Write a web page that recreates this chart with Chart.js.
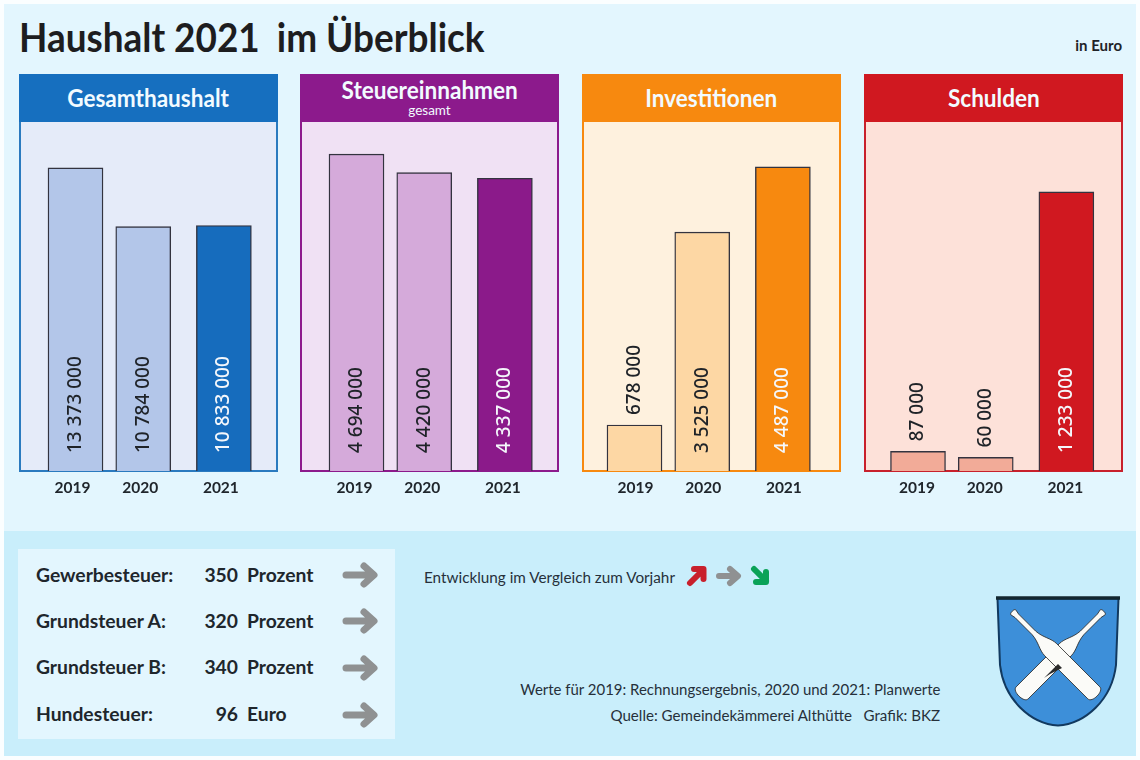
<!DOCTYPE html>
<html lang="de">
<head>
<meta charset="utf-8">
<title>Haushalt 2021 im Überblick</title>
<script src="https://cdn.jsdelivr.net/npm/chart.js@4"></script>
<style>
  html, body { margin: 0; padding: 0; background: #fbfeff; }
  body { width: 1140px; height: 760px; position: relative; overflow: hidden; font-family: Lato, "Noto Sans", sans-serif; color: #1f2328; }
  .abs { position: absolute; white-space: nowrap; }
  #top { left: 4px; top: 4px; width: 1132px; height: 527px; background: #e3f6fe; }
  #bottom { left: 4px; top: 531px; width: 1132px; height: 225px; background: #c9eefb; }
  #title { left: 19px; top: 13px; font-size: 41px; line-height: 48px; font-weight: 700; color: #1d1d1f; transform: scaleX(.9); transform-origin: left center; }
  #unit { right: 18px; top: 36px; font-size: 15px; line-height: 18px; font-weight: 700; }
  .head { height: 48px; color: #f2fbff; text-align: center; font-weight: 700; font-size: 24px; }
  .head span { display: inline-block; transform: scaleX(.94); }
  .body { box-sizing: border-box; border: 2px solid; border-top: 0; }
  #taxBox { left: 18px; top: 549px; width: 377px; height: 190px; background: #e3f6fe; }
  .tax { font-size: 19.3px; font-weight: 700; line-height: 24px; color: #20262c; }
  .note { font-size: 15.5px; line-height: 20px; color: #26303a; }
</style>
</head>
<body>
<div class="abs" id="top"></div>
<div class="abs" id="bottom"></div>
<div class="abs" id="title">Haushalt 2021 <span style="margin-left:9px">im Überblick</span></div>
<div class="abs" id="unit">in Euro</div>
<div id="panels"></div>
<div class="abs" id="taxBox"></div>
<div id="taxRows"></div>
<div class="abs note" style="left:424px;top:567px;transform:scaleX(.985);transform-origin:left center">Entwicklung im Vergleich zum Vorjahr</div>
<div class="abs note" style="right:200px;top:679px;transform:scaleX(.965);transform-origin:right center">Werte für 2019: Rechnungsergebnis, 2020 und 2021: Planwerte</div>
<div class="abs note" style="right:200px;top:705px;transform:scaleX(.975);transform-origin:right center">Quelle: Gemeindekämmerei Althütte&nbsp;&nbsp; Grafik: BKZ</div>

<svg class="abs" style="left:684px;top:562px" width="90" height="28" viewBox="0 0 90 28" fill="none" stroke-width="6" stroke-linecap="round" stroke-linejoin="round">
  <path d="M6 21 L19 8 M10 7 H19.500 V17" stroke="#c8202c"/>
  <path d="M35 14 H53 M46 7 L54 14 L46 21" stroke="#8f9192"/>
  <path d="M70 7 L82 19 M72 20 H82 V10" stroke="#0aa257"/>
</svg>

<svg class="abs" style="left:990px;top:590px" width="136" height="144" viewBox="0 0 136 144">
  <path d="M7.5 8.5 H128.5 L126 75 C122 110 95 134 68 135.5 C41 134 14 110 10 75 Z" fill="#3d8fd9" stroke="#12395f" stroke-width="2"/>
  <path d="M6 8 H130" stroke="#12262f" stroke-width="3.5"/>
  <g fill="#fbfbf8" stroke="#2b2b2b" stroke-width=".8">
    <path transform="translate(71 64) rotate(-45) scale(-1 1)" d="M-59 -3.500 C-61 -3.500 -61 3.500 -59 3.500 L-54 2.500 L-30 2.500 C-20 3 -14 8.500 -6 8.500 L55 8.500 C61 8.500 61 -8.500 55 -8.500 L-6 -8.500 C-14 -8.500 -20 -3 -30 -2.500 L-54 -2.500 Z"/>
    <path transform="translate(65 64) rotate(45)" d="M-59 -3.500 C-61 -3.500 -61 3.500 -59 3.500 L-54 2.500 L-30 2.500 C-20 3 -14 8.500 -6 8.500 L55 8.500 C61 8.500 61 -8.500 55 -8.500 L-6 -8.500 C-14 -8.500 -20 -3 -30 -2.500 L-54 -2.500 Z"/>
  </g>
  <path d="M54 88 L68 74 L72 78 L60 84 Z" fill="#2b2b2b"/>
</svg>

<script>
  // values
  var years = ['2019', '2020', '2021'];
  var gesamthaushalt = [13373000, 10784000, 10833000];
  var steuereinnahmen = [4694000, 4420000, 4337000];
  var investitionen = [678000, 3525000, 4487000];
  var schulden = [87000, 60000, 1233000];

  var taxNames = ['Gewerbesteuer:', 'Grundsteuer A:', 'Grundsteuer B:', 'Hundesteuer:'];
  var taxRates = ['350', '320', '340', '96'];
  var taxUnits = ['Prozent', 'Prozent', 'Prozent', 'Euro'];

  // the 2021 bar stands a little apart from the other two
  var slotOf = [0, 1, 2.19];
  var SLOT_PX = 67.75;
  var PLOT_W = 258;
  var PLOT_H = 349;

  var panels = [
    { title: 'Gesamthaushalt', values: gesamthaushalt, left: 19, firstBar: 56.5, yMax: 15400000, tickShift: -3,
      head: '#166fbf', line: '#2a7abf', bg: '#e5ebf9', pale: '#b3c6e9', strong: '#166cbd' },
    { title: 'Steuereinnahmen', sub: 'gesamt', values: steuereinnahmen, left: 300, firstBar: 56.5, yMax: 5170000, tickShift: -2,
      head: '#8c1a8c', line: '#8c1a8c', bg: '#f0e1f4', pale: '#d5aada', strong: '#8b1a8a' },
    { title: 'Investitionen', values: investitionen, left: 582, firstBar: 52.5, yMax: 5150000, tickShift: 1,
      head: '#f7890f', line: '#f7890f', bg: '#fef1de', pale: '#fdd7a4', strong: '#f7890f' },
    { title: 'Schulden', values: schulden, left: 864, firstBar: 54, yMax: 1542000, tickShift: -1,
      head: '#d01820', line: '#c8202c', bg: '#fde1d9', pale: '#f2ab98', strong: '#d01820' }
  ];

  function formatValue(v) {
    return String(v).replace(/\B(?=(\d{3})+$)/g, ' ');
  }

  // rotated value labels, inside the tall bars, above the short ones
  var valueLabels = {
    id: 'valueLabels',
    afterDatasetsDraw: function (chart) {
      var ctx = chart.ctx;
      var meta = chart.getDatasetMeta(0);
      var values = chart.data.datasets[0].data;
      meta.data.forEach(function (bar, i) {
        var inside = bar.base - bar.y > 100;
        ctx.save();
        ctx.translate(bar.x, inside ? bar.base - 18 : bar.y - 10);
        ctx.rotate(-Math.PI / 2);
        ctx.font = '500 19px "Noto Sans"';
        ctx.textAlign = 'left';
        ctx.textBaseline = 'middle';
        ctx.fillStyle = i === 2 ? '#f4f7fb' : '#1f2328';
        ctx.fillText(formatValue(values[i].y), 0, 0);
        ctx.restore();
      });
    }
  };

  function buildPanel(p, idx) {
    var host = document.getElementById('panels');
    var head = document.createElement('div');
    head.className = 'abs head';
    head.style.cssText = 'left:' + p.left + 'px;top:74px;width:' + (PLOT_W + 1) + 'px;background:' + p.head + ';' +
      (p.sub ? 'line-height:32px' : 'line-height:47px');
    head.innerHTML = '<span>' + p.title + '</span>' +
      (p.sub ? '<div style="font-size:13.5px;line-height:13px;font-weight:400;margin-top:-2px">' + p.sub + '</div>' : '');
    host.appendChild(head);

    var body = document.createElement('div');
    body.className = 'abs body';
    body.style.cssText = 'left:' + p.left + 'px;top:122px;width:' + (PLOT_W + 1) + 'px;height:' + (PLOT_H + 1) + 'px;' +
      'background:' + p.bg + ';border-color:' + p.line;
    host.appendChild(body);

    var canvas = document.createElement('canvas');
    canvas.id = 'chart' + idx;
    canvas.className = 'abs';
    canvas.width = PLOT_W;
    canvas.height = 378;
    canvas.style.cssText = 'left:' + p.left + 'px;top:122px';
    host.appendChild(canvas);

    new Chart(canvas, {
      type: 'bar',
      data: {
        datasets: [{
          data: p.values.map(function (v, i) { return { x: slotOf[i], y: v }; }),
          backgroundColor: [p.pale, p.pale, p.strong],
          borderColor: '#33333f',
          borderWidth: 1.4,
          borderSkipped: 'bottom',
          barThickness: 55
        }]
      },
      plugins: [valueLabels],
      options: {
        responsive: false,
        animation: false,
        devicePixelRatio: 1,
        layout: { padding: 0 },
        plugins: { legend: { display: false }, tooltip: { enabled: false } },
        scales: {
          x: {
            type: 'linear',
            offset: false,
            min: -p.firstBar / SLOT_PX,
            max: (PLOT_W - p.firstBar) / SLOT_PX,
            grid: { display: false },
            border: { display: false },
            afterBuildTicks: function (scale) {
              scale.ticks = slotOf.map(function (s) { return { value: s }; });
            },
            afterFit: function (scale) { scale.height = 29; },
            ticks: {
              autoSkip: false,
              maxRotation: 0,
              padding: 0,
              labelOffset: p.tickShift,
              color: '#20262c',
              font: { family: 'Lato', size: 15.5, weight: '700' },
              callback: function (value, i) { return years[i]; }
            }
          },
          y: { display: false, min: 0, max: p.yMax }
        }
      }
    });
  }

  function arrow(x, y) {
    return '<svg class="abs" style="left:' + x + 'px;top:' + y + 'px" width="40" height="30" viewBox="0 0 40 30" fill="none" ' +
      'stroke="#8f9192" stroke-width="7" stroke-linecap="round" stroke-linejoin="round">' +
      '<path d="M6 15 H33 M24 6 L34 15 L24 24"/></svg>';
  }

  function buildTaxRows() {
    var rowY = [563, 609, 655, 702];
    var html = '';
    taxNames.forEach(function (name, i) {
      html += '<div class="abs tax" style="left:36px;top:' + rowY[i] + 'px">' + name + '</div>' +
        '<div class="abs tax" style="left:188px;width:50px;text-align:right;top:' + rowY[i] + 'px">' + taxRates[i] + '</div>' +
        '<div class="abs tax" style="left:247px;top:' + rowY[i] + 'px">' + taxUnits[i] + '</div>' +
        arrow(340, rowY[i] - 3 + (i > 1 ? 1 : 0));
    });
    document.getElementById('taxRows').innerHTML = html;
  }

  panels.forEach(buildPanel);
  buildTaxRows();
</script>
</body>
</html>
